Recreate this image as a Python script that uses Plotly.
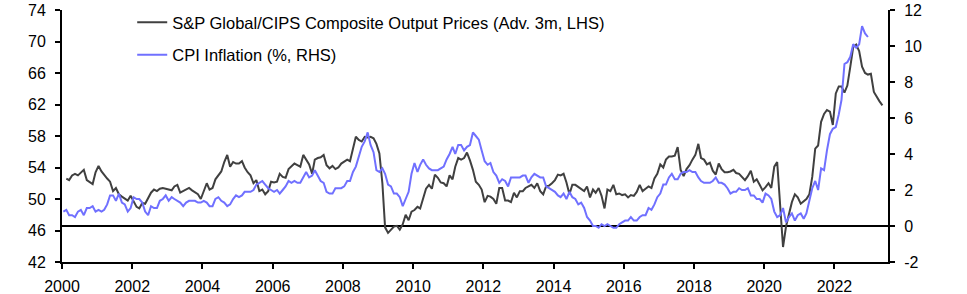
import plotly.graph_objects as go

# ---------------- data ----------------
# S&P Global/CIPS Composite Output Prices, advanced 3 months (LHS); Feb 2000 - May 2023
pmi_2000 = [52.6, 52.4, 53.0, 53.2, 53.0, 53.3, 53.7, 52.4, 52.2, 51.9, 53.4]  # Feb-Dec
pmi_2001 = [54.2, 53.5, 53.0, 52.6, 52.2, 51.0, 51.4, 50.6, 50.3, 50.1, 49.8, 50.4]
pmi_2002 = [49.6, 49.0, 48.8, 49.5, 49.4, 50.1, 50.8, 51.2, 51.0, 51.3, 51.4, 51.3]
pmi_2003 = [51.2, 51.1, 51.6, 51.8, 50.8, 51.0, 51.2, 51.4, 51.1, 50.9, 50.6, 50.0]
pmi_2004 = [51.0, 52.0, 51.2, 51.4, 52.5, 53.0, 53.5, 54.7, 55.6, 54.1, 54.7, 54.5]
pmi_2005 = [54.5, 54.8, 54.0, 53.4, 53.0, 52.0, 52.4, 51.0, 51.2, 50.6, 51.0, 52.2]
pmi_2006 = [52.1, 52.2, 53.2, 52.8, 52.7, 53.8, 54.2, 54.5, 54.3, 54.1, 55.6, 55.0]
pmi_2007 = [54.4, 53.2, 55.0, 55.2, 55.3, 55.6, 54.3, 53.9, 54.2, 53.8, 54.0, 54.5]
pmi_2008 = [54.8, 55.0, 54.8, 56.5, 57.9, 57.5, 57.3, 57.9, 57.8, 57.9, 57.7, 57.0]
pmi_2009 = [55.8, 52.0, 46.4, 45.7, 46.1, 46.5, 46.6, 46.1, 46.8, 48.0, 47.3, 48.4]
pmi_2010 = [48.6, 49.0, 48.8, 50.2, 51.3, 51.8, 51.3, 53.1, 52.7, 52.1, 52.0, 51.6]
pmi_2011 = [53.0, 52.5, 54.1, 55.2, 55.0, 55.2, 55.9, 54.9, 53.7, 52.2, 51.8, 51.2]
pmi_2012 = [49.6, 50.4, 50.3, 50.0, 49.4, 51.4, 51.4, 49.8, 49.8, 49.6, 50.8, 50.2]
pmi_2013 = [51.0, 51.0, 51.4, 51.6, 51.8, 51.4, 52.0, 51.0, 50.6, 51.6, 51.7, 52.0]
pmi_2014 = [52.4, 53.1, 53.0, 53.2, 52.1, 50.6, 51.8, 51.8, 51.5, 51.3, 51.0, 51.6]
pmi_2015 = [50.2, 51.2, 50.8, 51.4, 50.4, 48.8, 51.2, 51.0, 51.8, 50.6, 50.7, 50.5]
pmi_2016 = [50.6, 50.2, 50.5, 50.4, 50.9, 51.8, 51.0, 51.3, 51.6, 51.4, 52.6, 53.2]
pmi_2017 = [54.4, 54.0, 55.0, 55.4, 55.4, 55.5, 56.6, 53.7, 52.9, 53.8, 54.3, 55.0]
pmi_2018 = [55.6, 57.0, 55.2, 55.0, 54.4, 54.6, 53.6, 53.1, 54.5, 53.8, 53.4, 53.4]
pmi_2019 = [53.5, 53.7, 53.3, 53.2, 52.8, 52.4, 52.9, 53.6, 52.2, 52.5, 51.8, 51.1]
pmi_2020 = [51.5, 52.0, 51.4, 54.1, 54.7, 49.5, 43.9, 46.5, 48.0, 49.6, 50.6, 50.2]
pmi_2021 = [49.4, 49.7, 50.0, 50.6, 52.8, 56.4, 56.8, 59.8, 60.8, 61.3, 61.1, 59.4]
pmi_2022 = [63.4, 64.3, 64.3, 63.5, 64.4, 66.8, 69.3, 69.6, 68.8, 66.8, 66.0, 65.8]
pmi_2023 = [65.9, 63.6, 63.0, 62.4, 61.9]  # Jan-May

# CPI inflation, % y/y (RHS); Jan 2000 - Dec 2022
cpi_2000 = [0.8, 0.9, 0.6, 0.6, 0.5, 0.8, 0.9, 0.6, 1.0, 1.0, 1.1, 0.8]
cpi_2001 = [0.9, 0.8, 0.9, 1.2, 1.7, 1.7, 1.4, 1.8, 1.3, 1.2, 0.8, 1.0]
cpi_2002 = [1.6, 1.5, 1.5, 1.3, 0.8, 0.6, 1.1, 1.0, 1.0, 1.4, 1.5, 1.7]
cpi_2003 = [1.4, 1.6, 1.5, 1.4, 1.3, 1.1, 1.3, 1.4, 1.4, 1.4, 1.3, 1.3]
cpi_2004 = [1.4, 1.3, 1.1, 1.1, 1.5, 1.6, 1.4, 1.3, 1.1, 1.2, 1.5, 1.7]
cpi_2005 = [1.6, 1.7, 1.9, 1.9, 1.9, 2.0, 2.3, 2.4, 2.5, 2.3, 2.1, 2.0]
cpi_2006 = [1.9, 2.0, 1.8, 2.0, 2.2, 2.5, 2.4, 2.5, 2.4, 2.4, 2.7, 3.0]
cpi_2007 = [2.7, 2.8, 3.1, 2.8, 2.5, 2.4, 1.9, 1.8, 1.8, 2.1, 2.1, 2.1]
cpi_2008 = [2.2, 2.5, 2.5, 3.0, 3.3, 3.8, 4.4, 4.7, 5.2, 4.5, 4.1, 3.1]
cpi_2009 = [3.0, 3.2, 2.9, 2.3, 2.2, 1.8, 1.8, 1.6, 1.1, 1.5, 1.9, 2.9]
cpi_2010 = [3.5, 3.0, 3.4, 3.7, 3.4, 3.2, 3.1, 3.1, 3.1, 3.2, 3.3, 3.7]
cpi_2011 = [4.0, 4.4, 4.0, 4.5, 4.5, 4.2, 4.4, 4.5, 5.2, 5.0, 4.8, 4.2]
cpi_2012 = [3.6, 3.4, 3.5, 3.0, 2.8, 2.4, 2.6, 2.5, 2.2, 2.7, 2.7, 2.7]
cpi_2013 = [2.7, 2.8, 2.8, 2.4, 2.7, 2.9, 2.8, 2.7, 2.7, 2.2, 2.1, 2.0]
cpi_2014 = [1.9, 1.7, 1.6, 1.8, 1.5, 1.9, 1.6, 1.5, 1.2, 1.3, 1.0, 0.5]
cpi_2015 = [0.3, 0.0, 0.0, -0.1, 0.1, 0.0, 0.1, 0.0, -0.1, -0.1, 0.1, 0.2]
cpi_2016 = [0.3, 0.3, 0.5, 0.3, 0.3, 0.5, 0.6, 0.6, 1.0, 0.9, 1.2, 1.6]
cpi_2017 = [1.8, 2.3, 2.3, 2.7, 2.9, 2.6, 2.6, 2.9, 3.0, 3.0, 3.1, 3.0]
cpi_2018 = [3.0, 2.7, 2.5, 2.4, 2.4, 2.4, 2.5, 2.7, 2.4, 2.4, 2.3, 2.1]
cpi_2019 = [1.8, 1.9, 1.9, 2.1, 2.0, 2.0, 2.1, 1.7, 1.7, 1.5, 1.5, 1.3]
cpi_2020 = [1.8, 1.7, 1.5, 0.8, 0.5, 0.6, 1.0, 0.2, 0.5, 0.7, 0.3, 0.6]
cpi_2021 = [0.7, 0.4, 0.7, 1.5, 2.1, 2.5, 2.0, 3.2, 3.1, 4.2, 5.1, 5.4]
cpi_2022 = [5.5, 6.2, 7.0, 9.0, 9.1, 9.4, 10.1, 9.9, 10.1, 11.1, 10.7, 10.5]

pmi_label = "S&P Global/CIPS Composite Output Prices (Adv. 3m, LHS)"
cpi_label = "CPI Inflation (%, RHS)"

left_ticks = [42, 46, 50, 54, 58, 62, 66, 70, 74]
right_ticks = [-2, 0, 2, 4, 6, 8, 10, 12]
right_tick_text = ["-2", "0", "2", "4", "6", "8", "10", "12"]

# ---------------- assemble ----------------
pmi_years = [pmi_2000, pmi_2001, pmi_2002, pmi_2003, pmi_2004, pmi_2005, pmi_2006,
             pmi_2007, pmi_2008, pmi_2009, pmi_2010, pmi_2011, pmi_2012, pmi_2013,
             pmi_2014, pmi_2015, pmi_2016, pmi_2017, pmi_2018, pmi_2019, pmi_2020,
             pmi_2021, pmi_2022, pmi_2023]
cpi_years = [cpi_2000, cpi_2001, cpi_2002, cpi_2003, cpi_2004, cpi_2005, cpi_2006,
             cpi_2007, cpi_2008, cpi_2009, cpi_2010, cpi_2011, cpi_2012, cpi_2013,
             cpi_2014, cpi_2015, cpi_2016, cpi_2017, cpi_2018, cpi_2019, cpi_2020,
             cpi_2021, cpi_2022]


def month_dates(start_year, start_month, n):
    out = []
    y, m = start_year, start_month
    for _ in range(n):
        out.append(f"{y}-{m:02d}-15")
        m += 1
        if m > 12:
            m = 1
            y += 1
    return out


pmi_vals = [v for yr in pmi_years for v in yr]
cpi_vals = [v for yr in cpi_years for v in yr]
pmi_dates = month_dates(2000, 2, len(pmi_vals))
cpi_dates = month_dates(2000, 1, len(cpi_vals))

FONT = "Liberation Sans, Arial, sans-serif"

fig = go.Figure()
fig.add_trace(go.Scatter(x=pmi_dates, y=pmi_vals, mode="lines", name=pmi_label,
                         legendgroup="a", line=dict(color="#404040", width=2)))
fig.add_trace(go.Scatter(x=cpi_dates, y=cpi_vals, mode="lines", name=cpi_label,
                         legendgroup="b", yaxis="y2", line=dict(color="#7070FF", width=2)))

fig.update_layout(
    width=967, height=294,
    margin=dict(l=62, r=79, t=10, b=32, autoexpand=False),
    paper_bgcolor="white", plot_bgcolor="white",
    font=dict(family=FONT, size=16, color="#000000"),
    showlegend=True,
    legend=dict(x=0.085, y=1.02, xanchor="left", yanchor="top",
                bgcolor="rgba(0,0,0,0)", borderwidth=0,
                font=dict(size=16.5, color="#000000"),
                tracegroupgap=8, traceorder="grouped"),
    xaxis=dict(type="date", range=["2000-01-01", "2023-07-12"],
               tick0="2000-01-01", dtick="M24", tickformat="%Y",
               showgrid=False, zeroline=False,
               showline=True, linecolor="#000000", linewidth=2,
               ticks="outside", ticklen=5, tickwidth=2, tickcolor="#000000",
               tickfont=dict(size=16), ticklabelstandoff=4),
    yaxis=dict(range=[42, 74], tickvals=left_ticks, showgrid=False, zeroline=False,
               showline=True, linecolor="#000000", linewidth=2,
               ticks="outside", ticklen=5, tickwidth=2, tickcolor="#000000",
               tickfont=dict(size=16), ticklabelstandoff=6),
    yaxis2=dict(range=[-2, 12], tickvals=right_ticks, ticktext=right_tick_text,
                overlaying="y", side="right",
                showgrid=False, zeroline=True, zerolinecolor="#000000", zerolinewidth=2,
                showline=True, linecolor="#000000", linewidth=2,
                ticks="outside", ticklen=5, tickwidth=2, tickcolor="#000000",
                tickfont=dict(size=16), ticklabelstandoff=6),
)

fig.write_html("out.html")
